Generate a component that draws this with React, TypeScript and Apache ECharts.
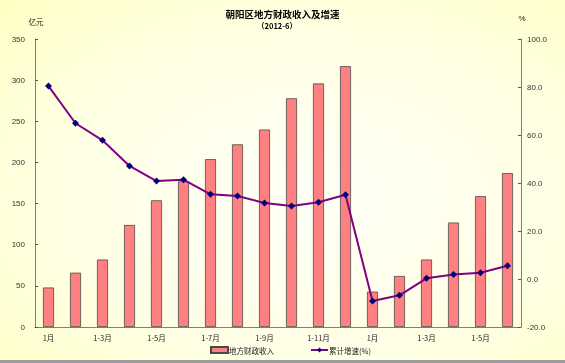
import React, { useEffect, useRef } from "react";
import * as echarts from "echarts";

const categories = [
  "1月", "1-2月", "1-3月", "1-4月", "1-5月", "1-6月", "1-7月", "1-8月", "1-9月",
  "1-10月", "1-11月", "1-12月", "1月", "1-2月", "1-3月", "1-4月", "1-5月", "1-6月",
];
const revenue = [48, 66, 82, 124, 154, 177, 204, 222, 240, 278, 296, 317, 43, 62, 82, 127, 159, 187];
const growth = [80.4, 64.9, 57.8, 47.1, 40.8, 41.4, 35.3, 34.6, 31.7, 30.4, 32.0, 35.1, -9.2, -6.8, 0.3, 1.9, 2.6, 5.5];

const title = "朝阳区地方财政收入及增速";
const subtitle = "（2012-6）";
const leftUnit = "亿元";
const rightUnit = "%";
const barName = "地方财政收入";
const lineName = "累计增速(%)";

const numFont = "'Liberation Sans', Arial, sans-serif";
const cjkFont = "'Noto Sans CJK SC', 'Liberation Sans', sans-serif";

export default function App() {
  const ref = useRef<HTMLDivElement>(null);
  useEffect(() => {
    document.body.style.margin = "0";
    const chart = echarts.init(ref.current!, undefined, { renderer: "svg" });
    chart.setOption({
      animation: false,
      backgroundColor: "transparent",
      grid: { left: 35, right: 44, top: 39, bottom: 36 },
      graphic: [
        {
          type: "text",
          left: "center",
          top: 9,
          style: { text: title, font: `bold 9.5px ${cjkFont}`, fill: "#000" },
        },
        {
          type: "text",
          x: 277,
          y: 25,
          style: { text: subtitle, font: `bold 7.5px ${cjkFont}`, fill: "#000", align: "center", verticalAlign: "middle" },
        },
        {
          type: "text",
          x: 36,
          y: 21,
          style: { text: leftUnit, font: `7.5px ${cjkFont}`, fill: "#222", align: "center", verticalAlign: "middle" },
        },
        {
          type: "text",
          x: 522,
          y: 18,
          style: { text: rightUnit, font: `8px ${numFont}`, fill: "#222", align: "center", verticalAlign: "middle" },
        },
        {
          type: "rect",
          shape: { x: 0, y: 360, width: 565, height: 3 },
          style: { fill: "#9c9c9c" },
        },
      ],
      legend: {
        left: 205,
        top: 341,
        itemGap: 36,
        itemWidth: 17,
        itemHeight: 6,
        textStyle: { fontFamily: cjkFont, fontSize: 7.5, color: "#222", padding: [0, 0, 0, -4] },
        data: [
          { name: barName, icon: "rect" },
          { name: lineName },
        ],
      },
      xAxis: {
        type: "category",
        data: categories,
        axisLine: { lineStyle: { color: "#808080", width: 1 } },
        axisTick: { inside: true, length: 2, interval: 0, lineStyle: { color: "#555" } },
        axisLabel: { interval: 1, margin: 7, fontFamily: cjkFont, fontSize: 7.5, color: "#222" },
      },
      yAxis: [
        {
          type: "value",
          min: 0,
          max: 350,
          interval: 50,
          splitLine: { show: false },
          axisLine: { show: true, lineStyle: { color: "#808080" } },
          axisTick: { show: true, inside: true, length: 3, lineStyle: { color: "#555" } },
          axisLabel: { margin: 10, fontFamily: numFont, fontSize: 8, color: "#333" },
        },
        {
          type: "value",
          min: -20,
          max: 100,
          interval: 20,
          position: "right",
          splitLine: { show: false },
          axisLine: { show: true, lineStyle: { color: "#808080" } },
          axisTick: { show: true, inside: true, length: 3, lineStyle: { color: "#555" } },
          axisLabel: {
            margin: 6,
            fontFamily: numFont,
            fontSize: 8,
            color: "#333",
            formatter: (v: number) => v.toFixed(1),
          },
        },
      ],
      series: [
        {
          name: barName,
          type: "bar",
          yAxisIndex: 0,
          barWidth: 11,
          data: revenue,
          itemStyle: { color: "#FF8080", borderColor: "#4a4a4a", borderWidth: 0.8 },
        },
        {
          name: lineName,
          type: "line",
          yAxisIndex: 1,
          data: growth,
          symbol: "diamond",
          symbolSize: 7,
          lineStyle: { color: "#800080", width: 2 },
          itemStyle: { color: "#000080" },
        },
      ],
    });
    return () => chart.dispose();
  }, []);
  return (
    <div
      style={{
        position: "fixed",
        left: 0,
        top: 0,
        width: 565,
        height: 363,
        background: "radial-gradient(ellipse at 55% 55%, #fffff6 0%, #ffffe6 55%, #ffffc4 100%)",
      }}
    >
      <div ref={ref} style={{ width: 565, height: 363 }} />
    </div>
  );
}
